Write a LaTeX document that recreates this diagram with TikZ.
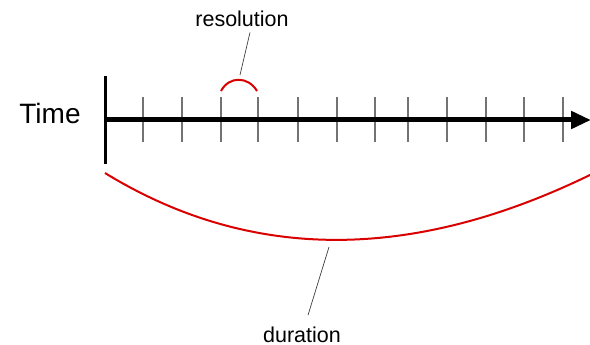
\documentclass[tikz,border=0pt]{standalone}
\usepackage{fontspec}
\setmainfont{Liberation Sans}
\usetikzlibrary{arrows.meta}
\begin{document}
\begin{tikzpicture}[x=1pt,y=-1pt,
  lbl/.style={inner sep=0pt, anchor=base, font=\fontsize{21.5}{24}\selectfont},
  tickline/.style={draw=black!55, line width=1.2pt},
  redarc/.style={draw=red!85!black, line width=2pt},
  leader/.style={draw=black!75, line width=0.7pt}]
\useasboundingbox (0,0) rectangle (590,345);
% labels
\node[inner sep=0pt, anchor=base, font=\fontsize{28}{30}\selectfont] (time) at (50,124) {Time};
\node[lbl] (res) at (242,27) {resolution};
\node[lbl] (dur) at (302,342) {duration};
% axis
\coordinate (vtop) at (105,76);
\coordinate (vbot) at (105,164);
\coordinate (a0) at (104,120);
\coordinate (a1) at (591,120);
\foreach \x in {143,182,221,258,298,337,375,408,447,486,524,563}
  \draw[tickline] (\x,97) -- (\x,142);
\draw[line width=3pt] (vtop) -- (vbot);
\draw[line width=5pt, -{Triangle[length=20pt,width=17pt]}] (a0) -- (a1);
% resolution arc
\coordinate (r0) at (221,91);
\coordinate (r1) at (257,91);
\coordinate (rt) at (240,75);
\draw[redarc] (r0) .. controls (229,76) and (248,76) .. (r1);
\draw[leader] ([xshift=8pt,yshift=-5pt]res.south) -- (rt);
% duration arc
\coordinate (d0) at (105,173);
\coordinate (d1) at (592,174);
\coordinate (dt) at (329,247);
\draw[redarc] (d0) .. controls (249.7,261.7) and (411.7,262.3) .. (d1);
\draw[leader] (dt) -- ([xshift=6pt,yshift=11pt]dur.north);
\end{tikzpicture}
\end{document}
